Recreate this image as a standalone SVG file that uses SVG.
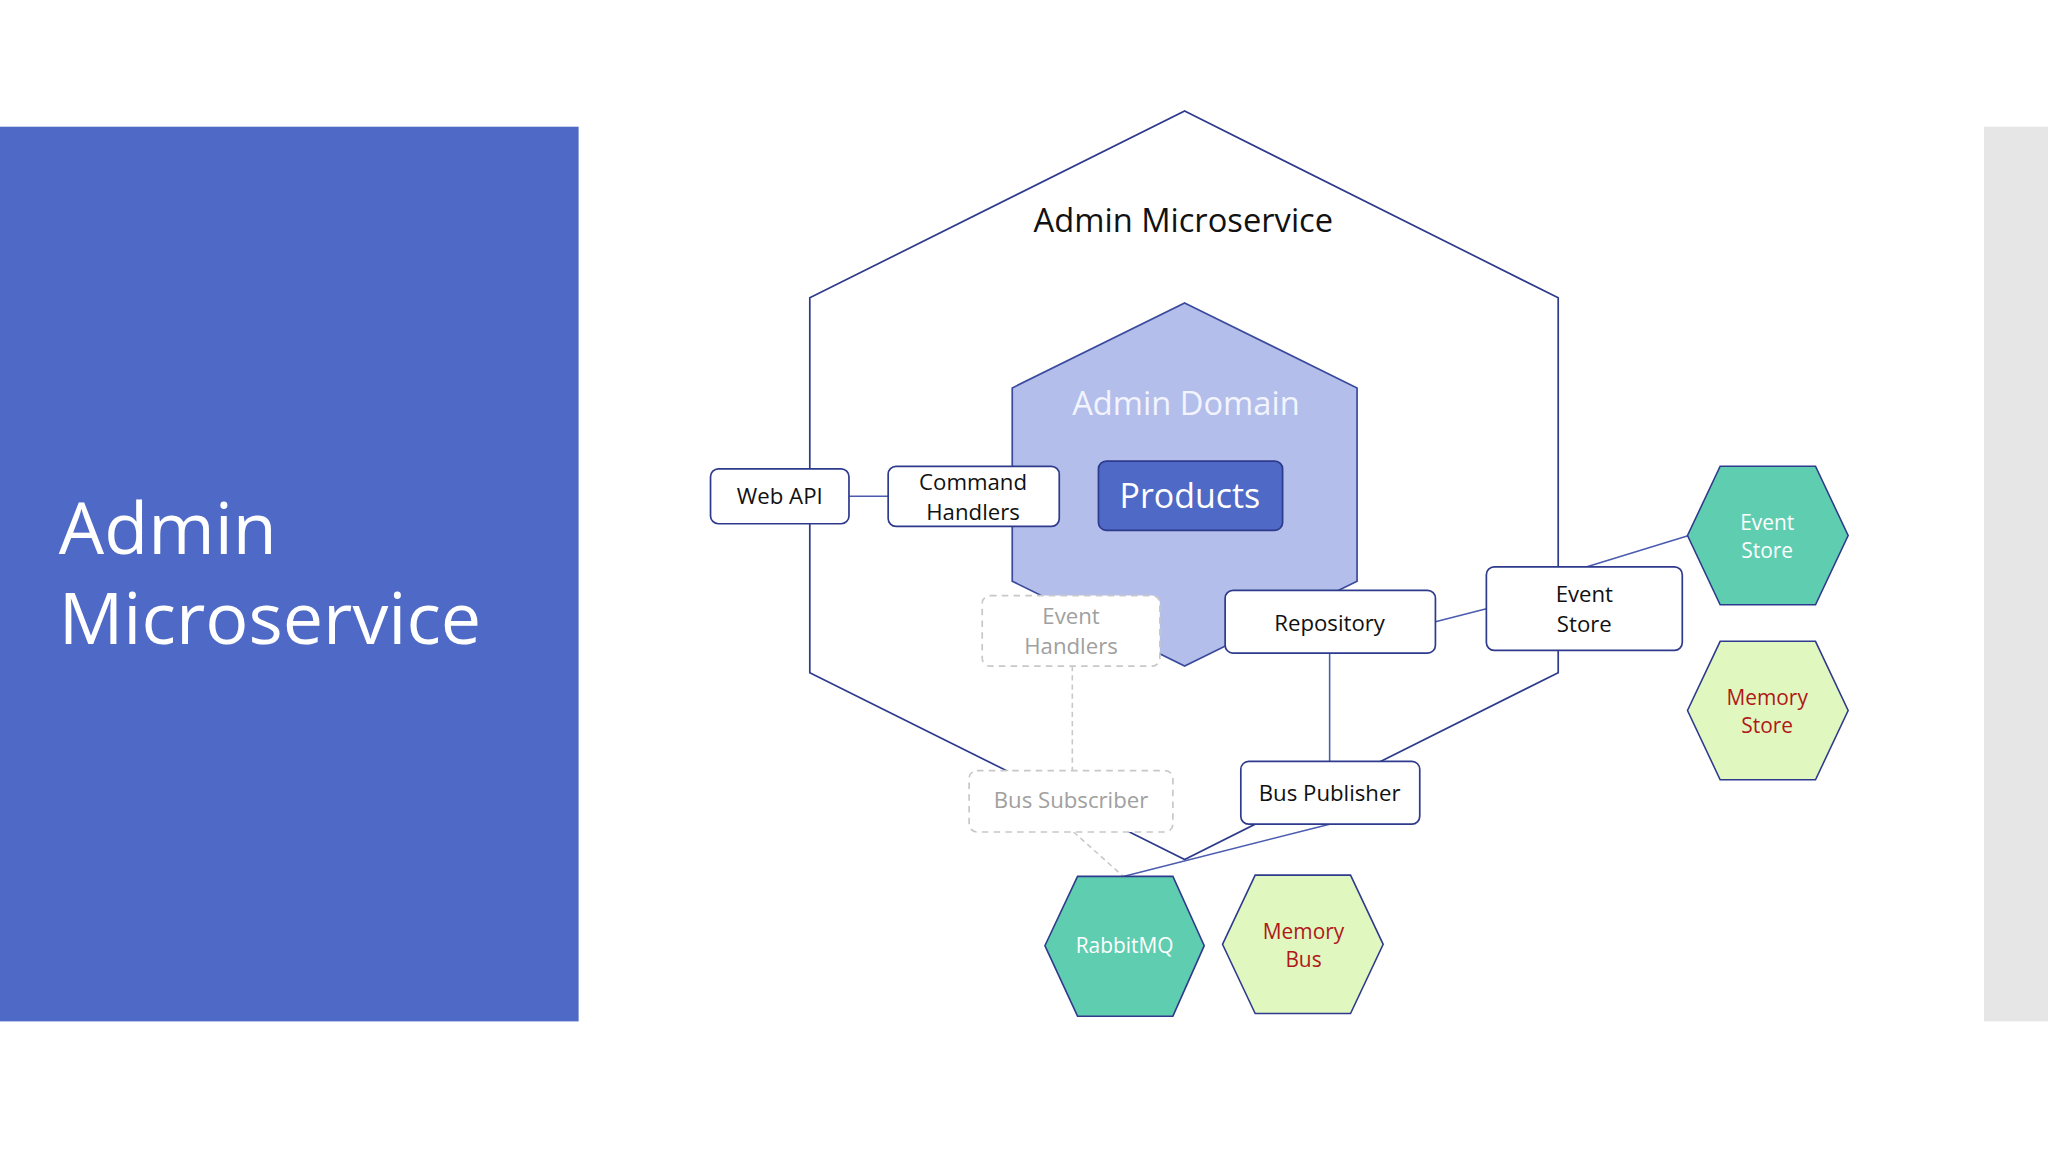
<svg xmlns="http://www.w3.org/2000/svg" width="2048" height="1152" viewBox="0 0 2048 1152">
<style>
text{font-family:"Open Sans","Noto Sans",sans-serif;text-anchor:middle}
.box{fill:#fff;stroke:#2E3A8C;stroke-width:1.3}
.dbox{fill:#fff;stroke:#C8C8C8;stroke-width:1.3;stroke-dasharray:5 4}
.ln{stroke:#4A5BB0;stroke-width:1.2;fill:none}
.dl{stroke:#C8C8C8;stroke-width:1.2;stroke-dasharray:4 3;fill:none}
.t{font-size:17px;fill:#111}
.g{font-size:17px;fill:#A0A0A0}
.teal{fill:#5ECDB0;stroke:#2E3A8C;stroke-width:1.2}
.lime{fill:#E0F7C0;stroke:#2E3A8C;stroke-width:1.2}
.w{font-size:16px;fill:#fff}
.r{font-size:16px;fill:#B01818}
</style>
<rect width="2048" height="1152" fill="#fff"/>
<g transform="scale(1.30612)">
<g id="left-panel"><rect x="0" y="97" width="443" height="685" fill="#4F69C6"/>
<text x="45" y="424" style="text-anchor:start;font-size:55px;fill:#fff">Admin</text>
<text x="45" y="493" style="text-anchor:start;font-size:55px;fill:#fff">Microservice</text></g>
<rect x="1519" y="97" width="49" height="685" fill="#E6E6E6"/>
<g id="admin-microservice"><polygon points="907,85 1193,228 1193,515 907,658 620,515 620,228" fill="#fff" stroke="#2E3A8C" stroke-width="1.3"/>
<text x="906" y="178" style="font-size:25px;fill:#111">Admin Microservice</text></g>
<g id="admin-domain"><polygon points="907,232 1039,297 1039,445 907,510 775,445 775,297" fill="#B4BEEA" stroke="#3B4A9C" stroke-width="1.3"/>
<text x="908" y="318" style="font-size:25px;fill:#F2F4FF">Admin Domain</text></g>
<g id="connectors">
<line class="ln" x1="650" y1="380" x2="680" y2="380"/>
<line class="ln" x1="1099" y1="476" x2="1138" y2="466"/>
<line class="ln" x1="1215" y1="434" x2="1293" y2="410"/>
<line class="ln" x1="1018" y1="500" x2="1018" y2="583"/>
<line class="ln" x1="1018" y1="631" x2="860" y2="671"/>
<line class="dl" x1="821" y1="510" x2="821" y2="590"/>
<line class="dl" x1="822" y1="637" x2="860" y2="671"/>
</g>
<g id="products"><rect x="841" y="353" width="141" height="53" rx="6" fill="#4F69C6" stroke="#2E3A8C" stroke-width="1.3"/><text x="911" y="389" style="font-size:26px;fill:#fff">Products</text></g>
<g id="web-api"><rect class="box" x="544" y="359" width="106" height="42" rx="6"/><text class="t" x="597" y="386">Web API</text></g>
<g id="command-handlers"><rect class="box" x="680" y="357" width="131" height="46" rx="6"/><text class="t" x="745" y="375">Command</text><text class="t" x="745" y="398">Handlers</text></g>
<g id="event-handlers"><rect class="dbox" x="752" y="456" width="136" height="54" rx="6"/><text class="g" x="820" y="478">Event</text><text class="g" x="820" y="501">Handlers</text></g>
<g id="repository"><rect class="box" x="938" y="452" width="161" height="48" rx="6"/><text class="t" x="1018" y="483">Repository</text></g>
<g id="event-store-box"><rect class="box" x="1138" y="434" width="150" height="64" rx="6"/><text class="t" x="1213" y="461">Event</text><text class="t" x="1213" y="484">Store</text></g>
<g id="bus-subscriber"><rect class="dbox" x="742" y="590" width="156" height="47" rx="6"/><text class="g" x="820" y="619">Bus Subscriber</text></g>
<g id="bus-publisher"><rect class="box" x="950" y="583" width="137" height="48" rx="6"/><text class="t" x="1018" y="613">Bus Publisher</text></g>
<g id="event-store-hex"><polygon class="teal" points="1317,357 1390,357 1415,410 1390,463 1317,463 1292,410"/><text class="w" x="1353" y="406">Event</text><text class="w" x="1353" y="427">Store</text></g>
<g id="memory-store"><polygon class="lime" points="1317,491 1390,491 1415,544 1390,597 1317,597 1292,544"/><text class="r" x="1353" y="540">Memory</text><text class="r" x="1353" y="561">Store</text></g>
<g id="rabbitmq"><polygon class="teal" points="825,671 898,671 922,724 898,778 825,778 800,724"/><text class="w" x="861" y="730">RabbitMQ</text></g>
<g id="memory-bus"><polygon class="lime" points="961,670 1034,670 1059,723 1034,776 961,776 936,723"/><text class="r" x="998" y="719">Memory</text><text class="r" x="998" y="740">Bus</text></g>
</g>
</svg>
